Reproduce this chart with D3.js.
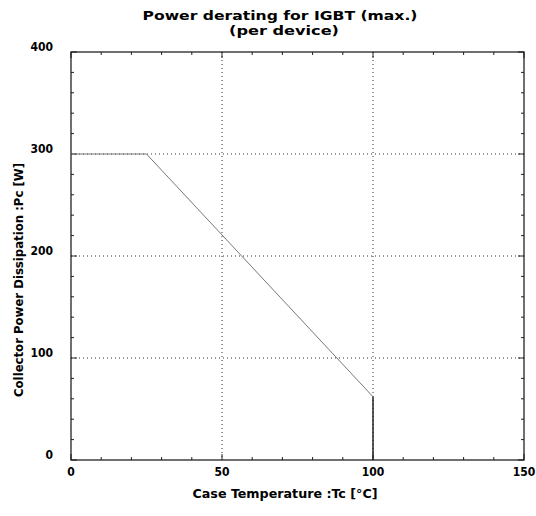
<!DOCTYPE html>
<html><head><meta charset="utf-8">
<script src="https://cdn.jsdelivr.net/npm/d3@7"></script>
<style>body{margin:0;background:#fff}</style>
</head><body>
<svg id="c" width="536" height="516"></svg>
<script>
const titleLines = ["Power derating for IGBT (max.)", "(per device)"];
const xLabel = "Case Temperature :Tc [\u00b0C]";
const yLabel = "Collector Power Dissipation :Pc [W]";
const xDomain = [0, 150];
const yDomain = [0, 400];
const xTicks = [0, 50, 100, 150];
const yTicks = [0, 100, 200, 300, 400];
const xGrid = [50, 100];
const yGrid = [100, 200, 300];
const curveT = [0, 25, 100];
const curveP = [300, 300, 62];
const cutoffT = [100, 100];
const cutoffP = [62, 0];

const svg = d3.select("#c");
const m = {l: 71, r: 524, t: 52, b: 460};
const x = d3.scaleLinear().domain(xDomain).range([m.l, m.r]);
const y = d3.scaleLinear().domain(yDomain).range([m.b, m.t]);
const font = "'DejaVu Sans Condensed', 'DejaVu Sans', sans-serif";

// grid
const g = svg.append("g");
g.selectAll(".gx").data(xGrid).enter().append("line")
  .attr("x1", d => x(d)).attr("x2", d => x(d)).attr("y1", m.t).attr("y2", m.b)
  .attr("stroke", "#333").attr("stroke-width", 1).attr("stroke-dasharray", "1,3");
g.selectAll(".gy").data(yGrid).enter().append("line")
  .attr("x1", m.l).attr("x2", m.r).attr("y1", d => y(d)).attr("y2", d => y(d))
  .attr("stroke", "#333").attr("stroke-width", 1).attr("stroke-dasharray", "1,3");

// minor/major ticks inward
const xMinor = d3.range(xDomain[0], xDomain[1] + 1, 10);
const yMinor = d3.range(yDomain[0], yDomain[1] + 1, 20);
const tk = svg.append("g").attr("stroke", "#222").attr("stroke-width", 1);
xMinor.forEach(v => {
  const len = v % 50 === 0 ? 6 : 3;
  tk.append("line").attr("x1", x(v)).attr("x2", x(v)).attr("y1", m.b).attr("y2", m.b - len);
  tk.append("line").attr("x1", x(v)).attr("x2", x(v)).attr("y1", m.t).attr("y2", m.t + len);
});
yMinor.forEach(v => {
  const len = v % 100 === 0 ? 6 : 3;
  tk.append("line").attr("y1", y(v)).attr("y2", y(v)).attr("x1", m.l).attr("x2", m.l + len);
  tk.append("line").attr("y1", y(v)).attr("y2", y(v)).attr("x1", m.r).attr("x2", m.r - len);
});

// frame
svg.append("rect").attr("x", m.l).attr("y", m.t).attr("width", m.r - m.l).attr("height", m.b - m.t)
  .attr("fill", "none").attr("stroke", "#111").attr("stroke-width", 1.2);

// curve
const line = d3.line().x(d => x(d[0])).y(d => y(d[1]));
svg.append("path").datum(curveT.map((t, i) => [t, curveP[i]]))
  .attr("d", line).attr("fill", "none").attr("stroke", "#777").attr("stroke-width", 1);
svg.append("path").datum(cutoffT.map((t, i) => [t, cutoffP[i]]))
  .attr("d", line).attr("fill", "none").attr("stroke", "#222").attr("stroke-width", 1.5);

// tick labels
svg.selectAll(".xl").data(xTicks).enter().append("text")
  .attr("x", d => x(d)).attr("y", 476).attr("text-anchor", "middle")
  .attr("font-family", font).attr("font-weight", "bold").attr("font-size", 12)
  .text(d => d);
svg.selectAll(".yl").data(yTicks).enter().append("text")
  .attr("x", 53).attr("y", d => y(d) - 1).attr("text-anchor", "end")
  .attr("font-family", font).attr("font-weight", "bold").attr("font-size", 12)
  .text(d => d);

// titles
svg.append("text").attr("x", 280).attr("y", 20).attr("text-anchor", "middle")
  .attr("font-family", font).attr("font-weight", "bold").attr("font-size", 13)
  .attr("textLength", 275).attr("lengthAdjust", "spacingAndGlyphs").text(titleLines[0]);
svg.append("text").attr("x", 284).attr("y", 35).attr("text-anchor", "middle")
  .attr("font-family", font).attr("font-weight", "bold").attr("font-size", 13)
  .attr("textLength", 110).attr("lengthAdjust", "spacingAndGlyphs").text(titleLines[1]);
svg.append("text").attr("x", 285).attr("y", 498).attr("text-anchor", "middle")
  .attr("font-family", font).attr("font-weight", "bold").attr("font-size", 12)
  .attr("textLength", 185).attr("lengthAdjust", "spacingAndGlyphs").text(xLabel);
svg.append("text").attr("transform", "translate(23,280) rotate(-90)").attr("text-anchor", "middle")
  .attr("font-family", font).attr("font-weight", "bold").attr("font-size", 12)
  .attr("textLength", 234).attr("lengthAdjust", "spacingAndGlyphs").text(yLabel);
</script>
</body></html>
